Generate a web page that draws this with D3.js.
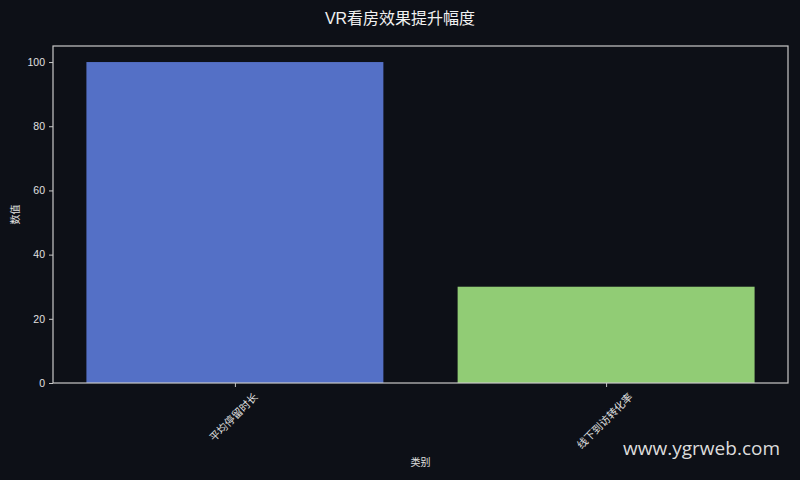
<!DOCTYPE html>
<html>
<head>
<meta charset="utf-8">
<script src="https://cdn.jsdelivr.net/npm/d3@7"></script>
<style>
  html, body { margin: 0; padding: 0; background: #0d1017; }
  svg { display: block; }
</style>
</head>
<body>
<div id="chart"></div>
<script>
const categories = ['平均停留时长', '线下到访转化率'];
const values = [100, 30];
const barColors = ['#5470c6', '#91cc75'];
const yTicks = [0, 20, 40, 60, 80, 100];

const width = 800, height = 480;
const margins = { top: 46, left: 53, right: 12, bottom: 97 };
const font = "'Liberation Sans', 'Noto Sans CJK SC', sans-serif";

const svg = d3.select('#chart').append('svg')
  .attr('width', width)
  .attr('height', height);

svg.append('rect').attr('width', width).attr('height', height).attr('fill', '#0d1017');

const plotW = width - margins.left - margins.right;
const plotH = height - margins.top - margins.bottom;

// matplotlib-like categorical axis: bars 0.8 wide, 5% margin
const xScale = d3.scaleLinear()
  .domain([-0.49, categories.length - 1 + 0.49])
  .range([0, plotW]);
const yScale = d3.scaleLinear()
  .domain([0, 105])
  .range([plotH, 0]);

const g = svg.append('g')
  .attr('transform', `translate(${margins.left},${margins.top})`);

g.selectAll('rect.bar')
  .data(values)
  .join('rect')
  .attr('class', 'bar')
  .attr('x', (d, i) => xScale(i - 0.4))
  .attr('width', (d, i) => xScale(i + 0.4) - xScale(i - 0.4))
  .attr('y', d => yScale(d))
  .attr('height', d => plotH - yScale(d))
  .attr('fill', (d, i) => barColors[i]);

// frame
g.append('rect')
  .attr('x', 0).attr('y', 0)
  .attr('width', plotW).attr('height', plotH)
  .attr('fill', 'none')
  .attr('stroke', '#c8c8c8')
  .attr('stroke-width', 1.2);

// y axis
const yAxis = d3.axisLeft(yScale).tickValues(yTicks).tickSize(4).tickPadding(4);
const gY = g.append('g').call(yAxis);
gY.select('.domain').remove();
gY.selectAll('line').attr('stroke', '#c8c8c8');
gY.selectAll('text').attr('fill', '#e0e0e0').style('font-size', '10.5px').style('font-family', font);

// x axis
const xAxis = d3.axisBottom(xScale)
  .tickValues(d3.range(categories.length))
  .tickFormat(i => categories[i])
  .tickSize(4).tickPadding(0);
const gX = g.append('g').attr('transform', `translate(0,${plotH})`).call(xAxis);
gX.select('.domain').remove();
gX.selectAll('line').attr('stroke', '#c8c8c8');
gX.selectAll('text')
  .attr('fill', '#e0e0e0')
  .style('font-size', '10.5px')
  .style('font-family', font)
  .attr('dy', null)
  .attr('y', null)
  .attr('text-anchor', 'middle')
  .attr('dominant-baseline', 'central')
  .attr('transform', function () {
    const n = this.textContent.length;
    const off = 8 + (n * 10.5 + 10.5) * 0.707 / 2;
    return `translate(-2,${off}) rotate(-45)`;
  });

// axis titles
svg.append('text')
  .attr('x', margins.left + plotW / 2)
  .attr('y', 466)
  .attr('text-anchor', 'middle')
  .attr('fill', '#e0e0e0')
  .style('font-size', '10px')
  .style('font-family', font)
  .text('类别');

svg.append('text')
  .attr('transform', `translate(19,${margins.top + plotH / 2}) rotate(-90)`)
  .attr('text-anchor', 'middle')
  .attr('fill', '#e0e0e0')
  .style('font-size', '10px')
  .style('font-family', font)
  .text('数值');

// title
svg.append('text')
  .attr('x', width / 2)
  .attr('y', 24)
  .attr('text-anchor', 'middle')
  .attr('fill', '#f0f0f0')
  .style('font-size', '16px')
  .style('font-family', font)
  .text('VR看房效果提升幅度');

// watermark
svg.append('text')
  .attr('x', 780)
  .attr('y', 455)
  .attr('text-anchor', 'end')
  .attr('fill', '#dcdcdc')
  .style('font-size', '19px')
  .style('font-family', "'Open Sans', 'Noto Sans', sans-serif")
  .text('www.ygrweb.com');
</script>
</body>
</html>
